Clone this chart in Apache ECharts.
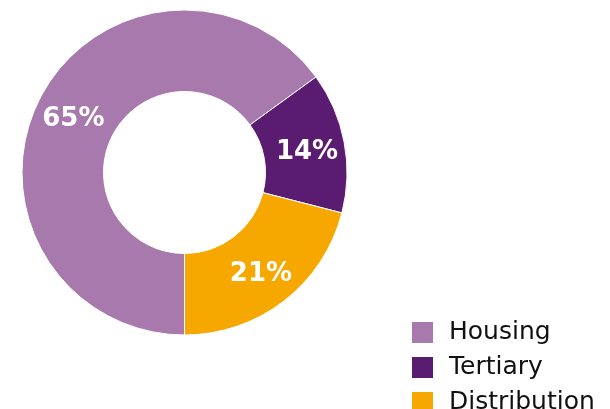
<!DOCTYPE html>
<html>
<head>
<meta charset="utf-8">
<script src="https://cdn.jsdelivr.net/npm/echarts@6/dist/echarts.min.js"></script>
<style>
html, body { margin: 0; padding: 0; background: #fff; }
#main { width: 610px; height: 409px; }
</style>
</head>
<body>
<div id="main"></div>
<script>
var categories = ['Housing', 'Tertiary', 'Distribution'];
var values = [65, 14, 21];
var colors = ['#a779ad', '#5a1c71', '#f6a800'];

var pieData = [];
for (var i = 0; i < categories.length; i++) {
    pieData.push({
        name: categories[i],
        value: values[i],
        itemStyle: { color: colors[i] }
    });
}

var option = {
    backgroundColor: '#fff',
    animation: false,
    legend: {
        orient: 'vertical',
        left: 410,
        top: 320,
        height: 150,
        padding: 0,
        itemWidth: 23,
        itemHeight: 23,
        itemGap: 10,
        icon: 'rect',
        textStyle: {
            fontFamily: 'DejaVu Sans',
            fontSize: 25,
            color: '#111',
            padding: [0, 0, 0, 10]
        },
        data: categories
    },
    series: [
        {
            type: 'pie',
            center: [184.5, 172.5],
            radius: [81, 162.5],
            startAngle: 270,
            clockwise: true,
            itemStyle: {
                borderColor: '#fff',
                borderWidth: 1
            },
            label: {
                show: true,
                position: 'inside',
                formatter: '{c}%',
                color: '#fff',
                fontFamily: 'DejaVu Sans',
                fontWeight: 'bold',
                fontSize: 26,
                offset: [0, 3]
            },
            labelLine: { show: false },
            emphasis: { disabled: true },
            data: pieData
        }
    ]
};

var chart = echarts.init(document.getElementById('main'));
chart.setOption(option);
</script>
</body>
</html>
